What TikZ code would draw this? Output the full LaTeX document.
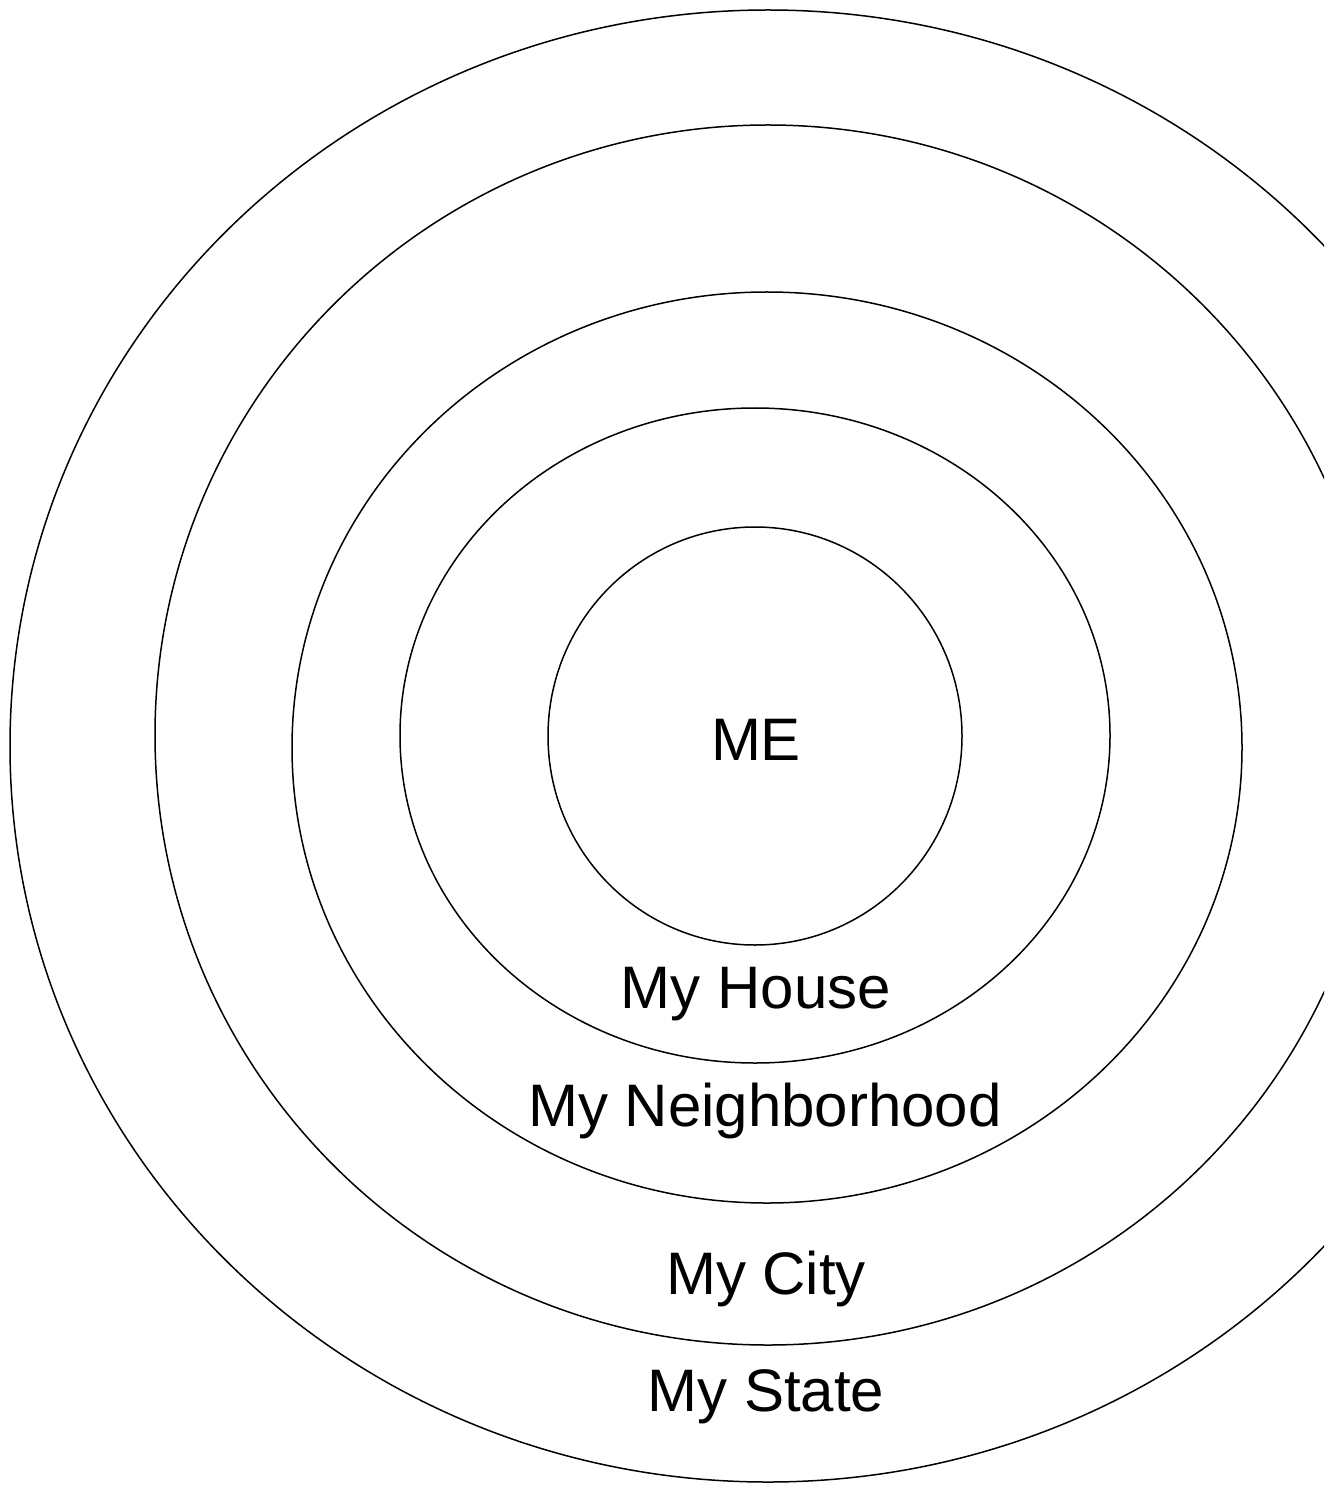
\documentclass[tikz,border=0pt]{standalone}
\usepackage{fontspec}
\setmainfont{Liberation Sans}
\begin{document}
\begin{tikzpicture}[x=0.5pt,y=-0.5pt,
  ring/.style={draw=black,line width=0.75pt},
  lbl/.style={anchor=base,inner sep=0pt,font=\fontsize{30}{36}\selectfont}]
\clip (0,0) rectangle (1324,1486);
\fill[white] (0,0) rectangle (1324,1486);
\draw[ring] (768,746) ellipse [x radius=379pt, y radius=368pt];
\draw[ring] (768,735) ellipse [x radius=306.5pt, y radius=305pt];
\draw[ring] (767,747.5) ellipse [x radius=237.5pt, y radius=227.75pt];
\draw[ring] (755,735.5) ellipse [x radius=177.5pt, y radius=163.75pt];
\draw[ring] (755,736) ellipse [x radius=103.5pt, y radius=104.5pt];
\node[lbl] (me) at (756,760) {ME};
\node[lbl] (house) at (756,1008) {My House};
\node[lbl] (neigh) at (765,1126) {My Neighborhood};
\node[lbl] (city) at (766,1294) {My City};
\node[lbl] (state) at (766,1411) {My State};
\end{tikzpicture}
\end{document}
